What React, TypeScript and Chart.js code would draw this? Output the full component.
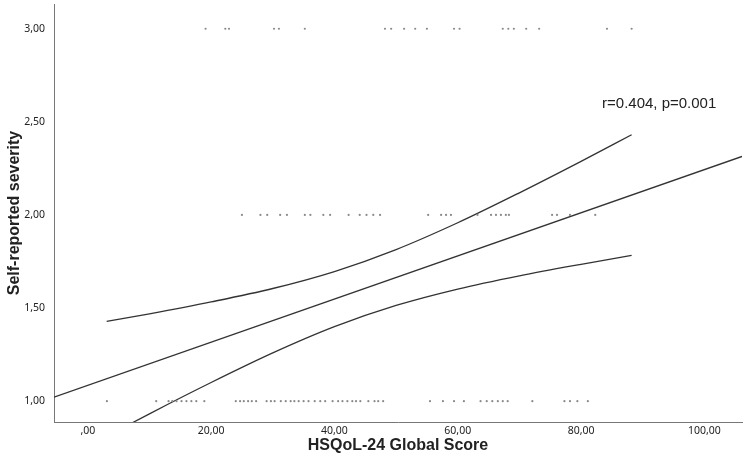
import React, { useEffect, useRef } from "react";
import { Chart, registerables } from "chart.js";

Chart.register(...registerables);

// Scatter points (HSQoL-24 Global Score by severity row)
const xSeverity3 = [19.1, 22.3, 22.9, 30.2, 31.0, 35.2, 48.2, 49.2, 51.3, 53.1, 55.0, 59.4, 60.3, 67.3, 68.2, 69.1, 71.1, 73.2, 84.2, 88.2];
const xSeverity2 = [25.0, 28.0, 29.1, 31.2, 32.3, 35.2, 36.1, 38.2, 39.3, 42.3, 44.1, 45.2, 46.3, 47.4, 55.2, 57.3, 58.1, 58.9, 63.2, 65.4, 66.2, 67.0, 67.8, 68.3, 75.3, 76.1, 78.2, 82.3];
const xSeverity1 = [3.1, 11.1, 13.1, 13.7, 14.4, 15.2, 16.0, 16.8, 17.6, 18.9, 24.0, 24.7, 25.3, 26.0, 26.6, 27.3, 29.0, 29.7, 30.3, 31.3, 32.1, 32.9, 33.5, 34.2, 35.0, 35.8, 36.8, 37.7, 38.5, 39.7, 40.6, 41.3, 42.1, 42.9, 43.5, 44.2, 45.5, 46.5, 47.1, 47.9, 55.5, 57.6, 59.4, 61.0, 63.7, 64.7, 65.6, 66.5, 67.3, 68.1, 72.1, 77.3, 78.2, 79.4, 81.1];

// Fit line
const fitIntercept = 1.0845;
const fitSlope = 0.01159;

// Confidence band
const bandX = [3.06, 10, 20, 30, 40, 50, 60, 70, 80, 88.2];
const bandUpper = [1.428, 1.469, 1.533, 1.605, 1.696, 1.814, 1.958, 2.119, 2.288, 2.431];
const bandLower = [0.811, 0.932, 1.100, 1.259, 1.400, 1.514, 1.602, 1.673, 1.735, 1.783];

// Axes
const xMin = -5.48;
const xMax = 106.1;
const yMin = 0.888;
const yMax = 3.133;
const xTicks = [0, 20, 40, 60, 80, 100];
const yTicks = [1, 1.5, 2, 2.5, 3];

const annotationText = "r=0.404, p=0.001";
const annotationX = 83.4;
const annotationY = 2.595;

const fmt = (v: number) => {
  const s = v.toFixed(2).replace(".", ",");
  return s.startsWith("0,") ? s.slice(1) : s;
};

export default function App() {
  const ref = useRef<HTMLCanvasElement | null>(null);

  useEffect(() => {
    if (!ref.current) return;
    const points = [
      ...xSeverity1.map((x) => ({ x, y: 1 })),
      ...xSeverity2.map((x) => ({ x, y: 2 })),
      ...xSeverity3.map((x) => ({ x, y: 3 })),
    ];
    const lineColor = "#333333";
    const annotationPlugin = {
      id: "rAnnotation",
      afterDatasetsDraw(chart: any) {
        const { ctx, scales } = chart;
        ctx.save();
        ctx.font = '15px "Liberation Sans", Arial, sans-serif';
        ctx.fillStyle = "#222";
        ctx.textAlign = "left";
        ctx.textBaseline = "middle";
        ctx.fillText(annotationText, scales.x.getPixelForValue(annotationX), scales.y.getPixelForValue(annotationY));
        ctx.restore();
      },
    };
    const chart = new Chart(ref.current, {
      type: "scatter",
      data: {
        datasets: [
          {
            type: "scatter",
            data: points,
            pointRadius: 1.1,
            pointBackgroundColor: "#8a8a8a",
            pointBorderWidth: 0,
          } as any,
          {
            type: "line",
            data: [
              { x: xMin, y: fitIntercept + fitSlope * xMin },
              { x: xMax, y: fitIntercept + fitSlope * xMax },
            ],
            borderColor: lineColor,
            borderWidth: 1.3,
            pointRadius: 0,
            fill: false,
          } as any,
          {
            type: "line",
            data: bandX.map((x, i) => ({ x, y: bandUpper[i] })),
            borderColor: lineColor,
            borderWidth: 1.3,
            pointRadius: 0,
            cubicInterpolationMode: "monotone",
            fill: false,
          } as any,
          {
            type: "line",
            data: bandX.map((x, i) => ({ x, y: bandLower[i] })),
            borderColor: lineColor,
            borderWidth: 1.3,
            pointRadius: 0,
            cubicInterpolationMode: "monotone",
            fill: false,
          } as any,
        ],
      },
      options: {
        animation: false,
        responsive: true,
        maintainAspectRatio: false,
        layout: { padding: 0 },
        plugins: { legend: { display: false }, tooltip: { enabled: false } },
        scales: {
          x: {
            type: "linear",
            min: xMin,
            max: xMax,
            grid: { display: false, drawTicks: false },
            border: { display: true, color: "#777", width: 1 },
            afterBuildTicks: (scale: any) => {
              scale.ticks = xTicks.map((v) => ({ value: v }));
            },
            afterFit: (scale: any) => {
              scale.height = 42;
              scale.paddingLeft = 0;
              scale.paddingRight = 0;
            },
            ticks: {
              padding: 3,
              color: "#222",
              font: { family: '"Noto Sans", sans-serif', size: 10.5 },
              callback: (v: any) => fmt(Number(v)),
              maxRotation: 0,
              autoSkip: false,
            },
            title: {
              display: true,
              text: "HSQoL-24 Global Score",
              color: "#222",
              font: { family: '"Liberation Sans", Arial, sans-serif', size: 16, weight: "bold" },
              padding: { top: 0, bottom: 9 },
            },
          },
          y: {
            type: "linear",
            min: yMin,
            max: yMax,
            grid: { display: false, drawTicks: false },
            border: { display: true, color: "#777", width: 1 },
            afterBuildTicks: (scale: any) => {
              scale.ticks = yTicks.map((v) => ({ value: v }));
            },
            afterFit: (scale: any) => {
              scale.width = 54;
              scale.paddingTop = 0;
              scale.paddingBottom = 0;
            },
            ticks: {
              padding: 9,
              color: "#222",
              font: { family: '"Noto Sans", sans-serif', size: 10.5 },
              callback: (v: any) => fmt(Number(v)),
              autoSkip: false,
            },
            title: {
              display: true,
              text: "Self-reported severity",
              color: "#222",
              font: { family: '"Liberation Sans", Arial, sans-serif', size: 16, weight: "bold" },
              padding: { top: 5, bottom: 0 },
            },
          },
        },
      },
      plugins: [annotationPlugin],
    } as any);
    return () => chart.destroy();
  }, []);

  return (
    <div style={{ position: "fixed", left: 0, top: 0, width: 746, height: 464, background: "#fff" }}>
      <canvas ref={ref} />
    </div>
  );
}
